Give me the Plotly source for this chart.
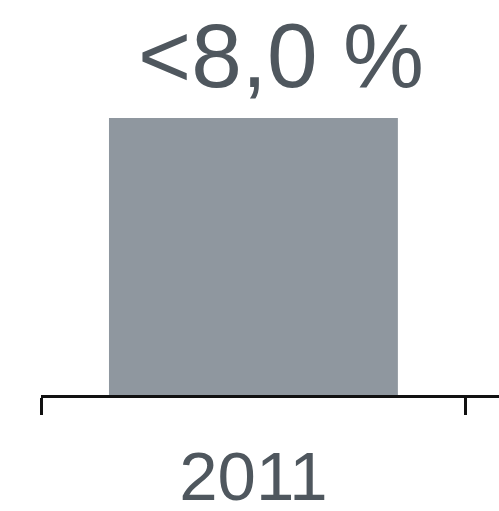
import plotly.graph_objects as go

categories = ["2011"]
values = [8.0]
value_labels = ["<8,0 %"]

fig = go.Figure()
fig.add_trace(go.Bar(
    x=categories, y=values,
    marker=dict(color="#8f979f", line=dict(width=0)),
    width=0.68,
    hoverinfo="skip",
))

for i, (v, lab) in enumerate(zip(values, value_labels)):
    fig.add_annotation(
        x=i, y=v, text=lab, showarrow=False,
        xref="x", yref="y",
        xanchor="center", yanchor="bottom",
        xshift=28, yshift=10,
        font=dict(family="Liberation Sans, Arial, sans-serif", size=91, color="#4f575e"),
    )

fig.update_layout(
    width=499, height=511,
    margin=dict(l=41, r=0, t=0, b=116),
    paper_bgcolor="white", plot_bgcolor="white",
    showlegend=False,
    xaxis=dict(
        type="category",
        range=[-0.5, 0.578],
        showline=True, linecolor="#111111", linewidth=3,
        ticks="outside", tickson="boundaries", ticklen=17, tickwidth=3, tickcolor="#111111",
        tickfont=dict(family="Liberation Sans, Arial, sans-serif", size=69, color="#4f575e"),
        ticklabelstandoff=19,
        showgrid=False, zeroline=False, automargin=False,
    ),
    yaxis=dict(
        range=[0, 11.41],
        visible=False, showgrid=False, zeroline=False,
    ),
)

fig.write_html(
    "out.html",
    config={"displayModeBar": False, "staticPlot": True},
    post_script="document.body.style.margin='0';document.body.style.overflow='hidden';",
)
